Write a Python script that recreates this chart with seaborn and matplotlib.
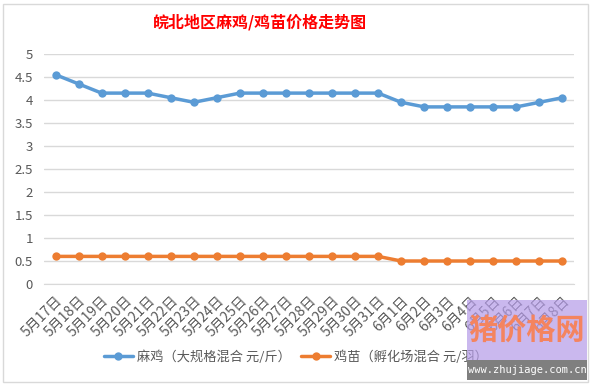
import pandas as pd
import matplotlib.pyplot as plt
import seaborn as sns
from matplotlib.patches import Rectangle

#---- dados do grafico
datas = ['5月17日', '5月18日', '5月19日', '5月20日', '5月21日', '5月22日', '5月23日',
         '5月24日', '5月25日', '5月26日', '5月27日', '5月28日', '5月29日', '5月30日',
         '5月31日', '6月1日', '6月2日', '6月3日', '6月4日', '6月5日', '6月6日',
         '6月7日', '6月8日']
maji = [4.55, 4.35, 4.15, 4.15, 4.15, 4.05, 3.95, 4.05, 4.15, 4.15, 4.15, 4.15,
        4.15, 4.15, 4.15, 3.95, 3.85, 3.85, 3.85, 3.85, 3.85, 3.95, 4.05]
jimiao = [0.6, 0.6, 0.6, 0.6, 0.6, 0.6, 0.6, 0.6, 0.6, 0.6, 0.6, 0.6, 0.6, 0.6,
          0.6, 0.5, 0.5, 0.5, 0.5, 0.5, 0.5, 0.5, 0.5]
serie_maji = '麻鸡（大规格混合 元/斤）'
serie_jimiao = '鸡苗（孵化场混合 元/羽）'
titulo = '皖北地区麻鸡/鸡苗价格走势图'

df = pd.DataFrame({
    'pos': list(range(len(datas))) * 2,
    'preco': maji + jimiao,
    'serie': [serie_maji] * len(datas) + [serie_jimiao] * len(datas),
})

sns.set_style('white')
plt.rcParams['font.family'] = ['Noto Sans CJK SC', 'DejaVu Sans']

fig = plt.figure(figsize=(5.92, 3.85), dpi=100)
ax = fig.add_axes([44 / 592, 101 / 385, 530 / 592, 230 / 385])

sns.lineplot(data=df, x='pos', y='preco', hue='serie', ax=ax,
             palette=['#5b9bd5', '#ed7d31'], marker='o', markersize=6,
             markeredgewidth=0, linewidth=2.5, legend=True)

ax.set_xlim(-0.5, len(datas) - 0.5)
ax.set_ylim(0, 5)
ax.set_yticks([i * 0.5 for i in range(11)])
ax.set_yticklabels(['0', '0.5', '1', '1.5', '2', '2.5', '3', '3.5', '4', '4.5', '5'])
ax.set_xticks(range(len(datas)))
ax.set_xticklabels(datas, rotation=45, ha='right', rotation_mode='anchor')
ax.set_xticks([i - 0.5 for i in range(len(datas) + 1)], minor=True)
ax.tick_params(axis='x', which='major', length=0, pad=7, labelsize=10, labelcolor='#595959')
ax.tick_params(axis='x', which='minor', length=5, color='#d9d9d9', width=1)
ax.tick_params(axis='y', length=0, pad=8, labelsize=9.5, labelcolor='#595959')
ax.grid(axis='y', color='#d9d9d9', linewidth=1)
for lado in ['top', 'right', 'left']:
    ax.spines[lado].set_visible(False)
ax.spines['bottom'].set_color('#d9d9d9')
ax.set_xlabel('')
ax.set_ylabel('')

leg = ax.legend(loc='center', bbox_to_anchor=(296 / 592, 28 / 385),
                bbox_transform=fig.transFigure, ncol=2, frameon=False,
                fontsize=9.5, handlelength=2.2, columnspacing=0.8, handletextpad=0.3)
for t in leg.get_texts():
    t.set_color('#595959')

fig.text(260 / 592, 1 - 22 / 385, titulo, ha='center', va='center', color='#ff0000',
         fontsize=11.5, fontweight='bold')

# borda do grafico
fig.patches.append(Rectangle((3 / 592, 3 / 385), 585 / 592, 378 / 385, fill=False,
                             edgecolor='#d9d9d9', linewidth=1, transform=fig.transFigure))

# marca d'agua
fig.patches.append(Rectangle((467 / 592, 25 / 385), 120 / 592, 60 / 385, facecolor='#b49be8',
                             alpha=0.7, edgecolor='none', transform=fig.transFigure, zorder=5))
fig.patches.append(Rectangle((467 / 592, 5 / 385), 120 / 592, 20 / 385, facecolor='#7f7f7f',
                             edgecolor='none', transform=fig.transFigure, zorder=5))
fig.text(527 / 592, 55 / 385, '猪价格网', ha='center', va='center', color='#f4845f',
         fontsize=21, fontweight='bold', zorder=6)
fig.text(527 / 592, 15 / 385, 'www.zhujiage.com.cn', ha='center', va='center', color='white',
         fontsize=7.5, family='DejaVu Sans Mono', zorder=6)

plt.savefig('out.png', dpi=100)
